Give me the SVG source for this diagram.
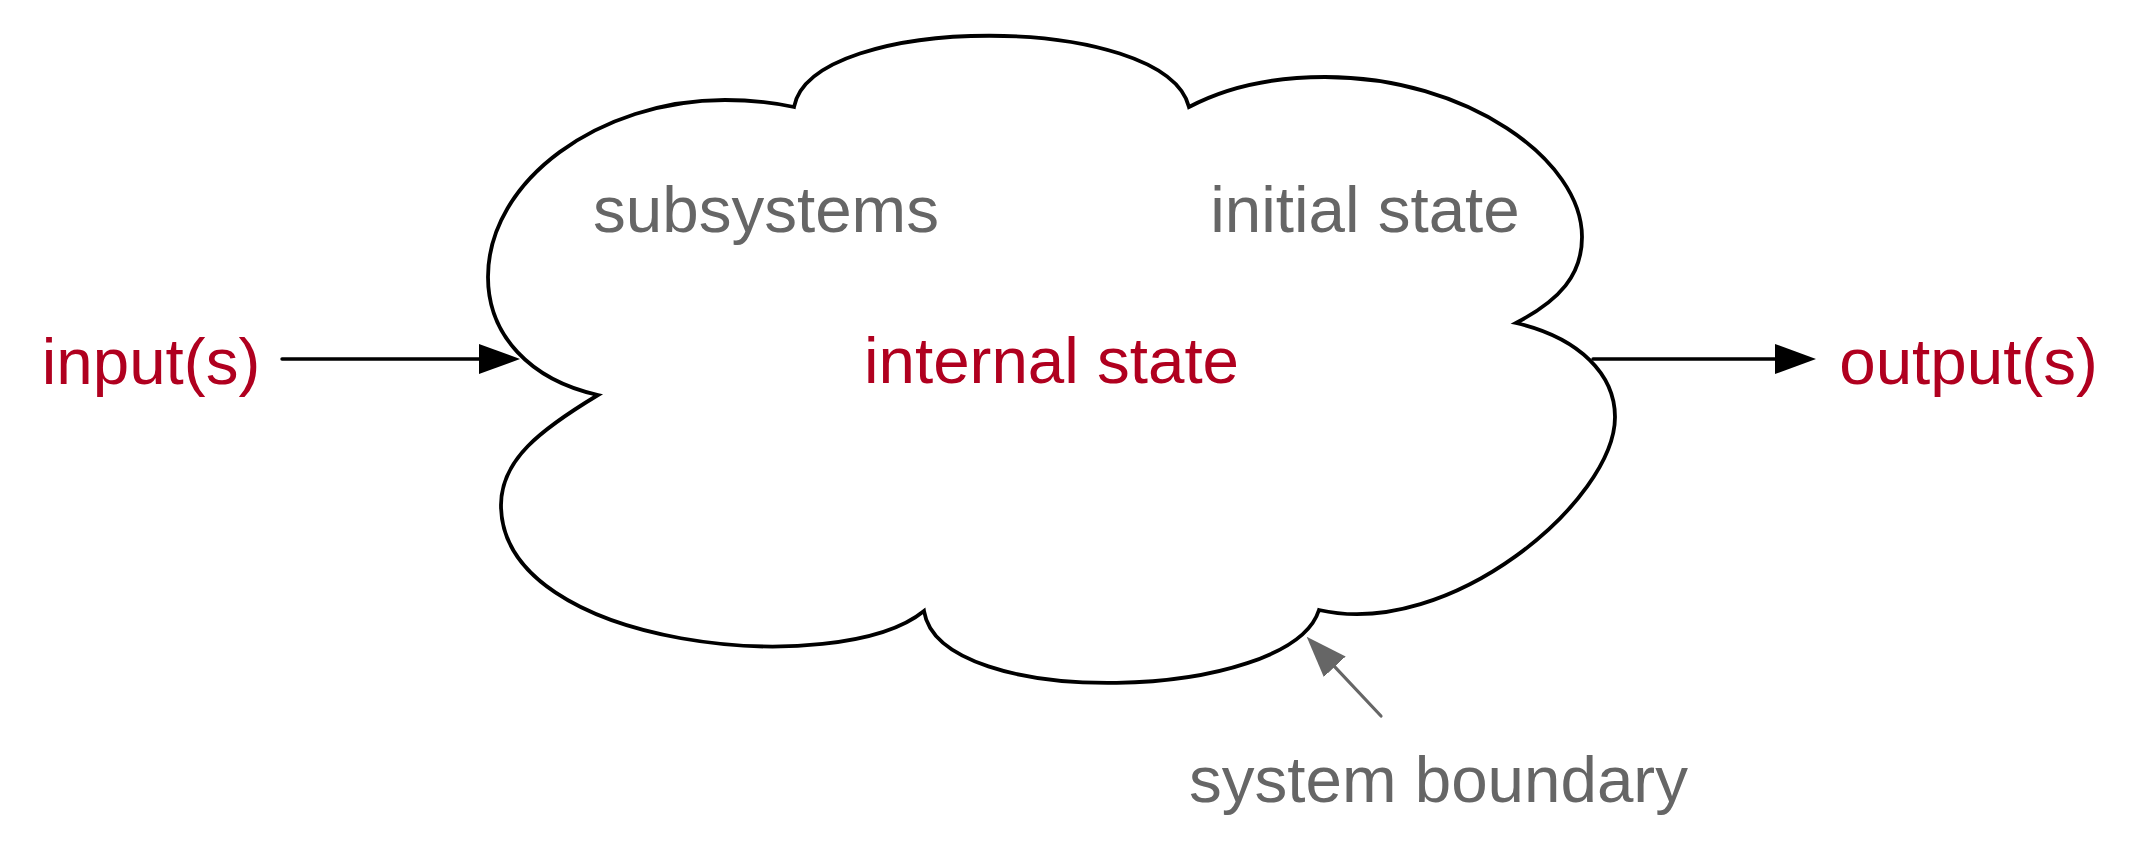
<svg xmlns="http://www.w3.org/2000/svg" width="2143" height="862" viewBox="0 0 2143 862">
<style>
.lbl{font-family:"Liberation Sans",Arial,Helvetica,sans-serif;font-size:65.5px;text-anchor:middle}
.red{fill:#B0001F}
.gray{fill:#666666}
.cloud{fill:#FFFFFF;stroke:#000000;stroke-width:3.8;stroke-linejoin:miter}
.edge{fill:none;stroke:#000000;stroke-width:3.4;stroke-linecap:round}
.edge-gray{fill:none;stroke:#666666;stroke-width:3.2;stroke-linecap:round}
</style>
<defs>
<marker id="ahBlack" markerUnits="userSpaceOnUse" markerWidth="42" markerHeight="32" viewBox="0 0 42 32" refX="4" refY="16" orient="auto">
<path d="M0,1 L41,16 L0,31 Z" fill="#000000"/>
</marker>
<marker id="ahGray" markerUnits="userSpaceOnUse" markerWidth="42" markerHeight="32" viewBox="0 0 42 32" refX="4" refY="16" orient="auto">
<path d="M0,1 L41,16 L0,31 Z" fill="#666666"/>
</marker>
</defs>
<rect width="2143" height="862" fill="#FFFFFF"/>
<g id="system">
<path class="cloud" d="M598,395 C530,380 488,335 488,277 C488,180 600,100 725,100 C755,100 775,103 794,107 C812,12 1165,12 1189,107 C1225,88 1272,77 1325,77 C1467,77 1582,160 1582,237 C1582,275 1560,300 1516,323 C1580,338 1615,375 1615,417 C1615,500 1450,640 1319,610 C1290,702 940,712 924,611 C840,680 501,650 501,505 C501,460 540,430 598,395 Z"/>
<text class="lbl red" x="1051.5" y="383">internal state</text>
</g>
<g id="subsystems"><text class="lbl gray" x="766" y="232">subsystems</text></g>
<g id="initial-state"><text class="lbl gray" x="1365" y="232">initial state</text></g>
<g id="inputs"><text class="lbl red" x="151" y="384">input(s)</text></g>
<g id="outputs"><text class="lbl red" x="1968.5" y="384">output(s)</text></g>
<g id="system-boundary"><text class="lbl gray" x="1438.5" y="802">system boundary</text></g>
<g id="connectors">
<line class="edge" x1="282" y1="359" x2="483" y2="359" marker-end="url(#ahBlack)"/>
<line class="edge" x1="1593" y1="359" x2="1779" y2="359" marker-end="url(#ahBlack)"/>
<line class="edge-gray" x1="1381" y1="716" x2="1332" y2="663.8" marker-end="url(#ahGray)"/>
</g>
</svg>
